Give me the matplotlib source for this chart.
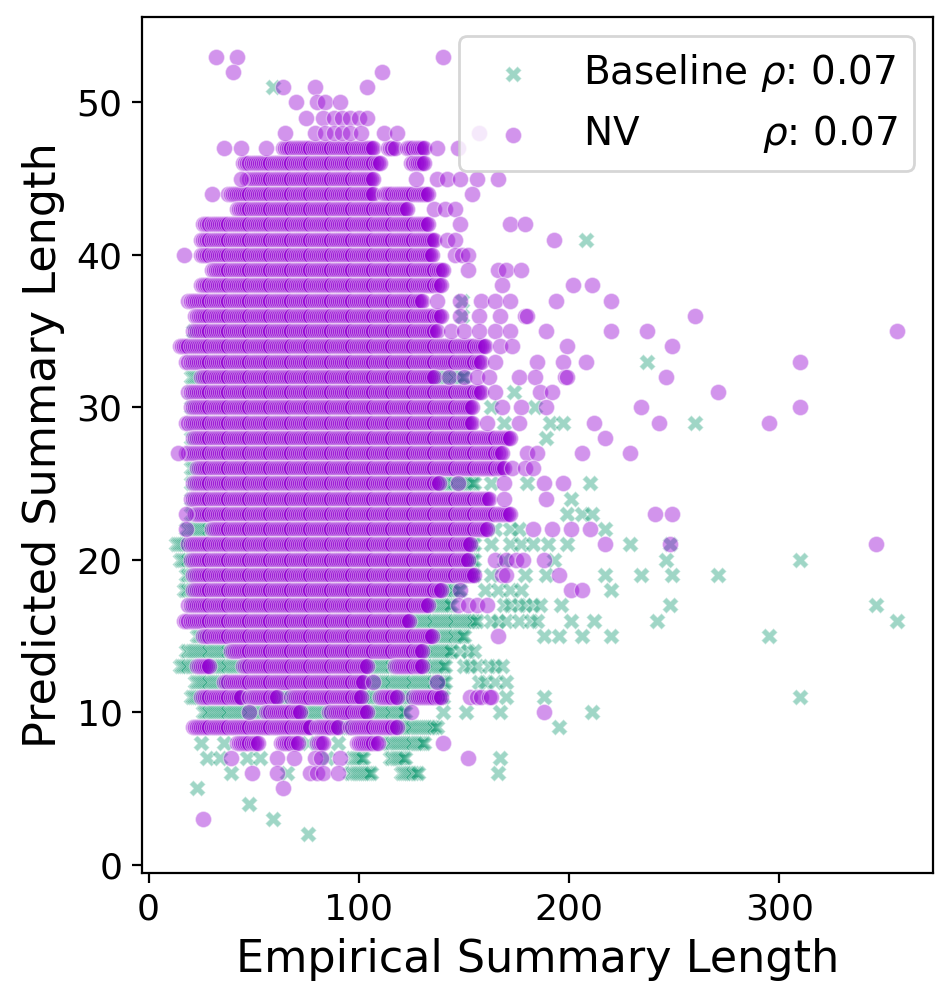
import numpy as np
import matplotlib
matplotlib.use("Agg")
import matplotlib.pyplot as plt

# ---------------- data ----------------
# Dense bands: rows of (predicted length y, empirical length from x0 to x1)
nv_band_y  = [47, 47, 47, 46, 46, 45, 44, 44, 43, 42, 41, 40, 39, 38, 37, 36, 35, 34, 33, 32, 31, 30,
              29, 28, 27, 26, 25, 24, 23, 22, 21, 20, 19, 18, 17, 16, 15, 14, 13, 13, 13, 12,
              11, 11, 11, 11, 11, 10, 10, 9, 9, 9, 8, 8, 8, 8]
nv_band_x0 = [64, 114, 123, 45, 125, 47, 38, 112, 42, 26, 25, 25, 30, 25, 19, 22, 21, 15, 18, 25, 19, 20,
              18, 21, 18, 23, 21, 20, 22, 30, 19, 20, 21, 21, 19, 17, 26, 39, 23, 45, 117, 36,
              25, 48, 68, 110, 126, 56, 86, 21, 80, 96, 42, 63, 80, 99]
nv_band_x1 = [107, 117, 131, 110, 131, 107, 107, 133, 123, 133, 136, 135, 140, 139, 130, 139, 137, 160, 158, 136, 158, 154,
              154, 171, 168, 169, 138, 162, 172, 161, 153, 152, 155, 139, 133, 124, 135, 130, 29, 104, 130, 102,
              44, 61, 101, 118, 139, 72, 104, 77, 90, 118, 52, 71, 83, 109]

# Scattered single points, per predicted length
nv_points = {
    53: [32, 42, 140], 52: [40, 111], 51: [64, 79, 104], 50: [70, 80, 84, 91],
    49: [75, 83, 88, 92, 96, 100, 104],
    48: [65, 79, 84, 88, 92, 96, 101, 112, 118, 157],
    47: [36, 44, 56, 137, 147], 45: [44, 127, 137, 142, 148, 156, 166],
    44: [30, 154], 43: [136, 141, 146], 42: [148, 172, 179], 41: [142, 146, 193],
    40: [17, 146, 149, 152], 39: [152, 166, 170, 177], 38: [168, 202, 211],
    37: [137, 148, 158, 165, 172, 194, 220], 36: [148, 157, 167, 179, 180, 260],
    35: [144, 150, 157, 165, 172, 189, 220, 237, 356], 34: [167, 173, 199, 249],
    33: [165, 185, 197, 208, 310], 32: [143, 150, 156, 162, 176, 184, 198, 199, 246],
    31: [165, 186, 192, 271], 30: [168, 177, 189, 234, 310], 29: [161, 176, 212, 243, 295],
    28: [172, 217], 27: [14, 180, 185, 206, 229], 26: [173, 179, 183],
    25: [147, 169, 188, 197], 24: [169, 189], 23: [18, 241, 249], 22: [18, 183, 192, 201, 210],
    21: [217, 248, 346], 20: [165, 170, 175, 178, 188], 19: [168, 170, 195], 18: [148, 201, 206],
    17: [147, 152, 156, 161], 15: [166], 12: [107, 137], 11: [153, 156, 158, 162, 163],
    10: [48, 125, 188], 8: [140],
    7: [39, 61, 69, 79, 82, 91, 152], 6: [49, 61, 77, 80, 83, 90], 5: [64], 3: [26],
}

base_band_y  = [35, 34, 33, 32, 31, 30, 29, 28, 27, 26, 25, 24, 23, 22, 21, 20, 19, 18, 17, 16, 15,
                14, 13, 12, 11, 10, 9, 8, 7, 7, 6, 6]
base_band_x0 = [22, 20, 20, 20, 20, 20, 20, 20, 20, 20, 20, 20, 20, 18, 13, 15, 18, 17, 20, 20, 23,
                18, 15, 22, 20, 26, 25, 114, 97, 115, 96, 120]
base_band_x1 = [120, 150, 150, 150, 150, 150, 150, 150, 150, 150, 155, 150, 150, 155, 155, 155, 155, 148, 144, 156, 150,
                144, 141, 141, 140, 122, 137, 131, 102, 122, 106, 128]

base_points = {
    51: [59], 41: [208], 37: [149], 36: [149], 35: [21], 33: [237], 31: [174], 30: [163, 184],
    29: [169, 191, 197, 260], 28: [189], 25: [163, 180, 210], 24: [201], 23: [199, 206, 211],
    22: [165, 172, 176, 217], 21: [163, 172, 177, 183, 190, 199, 229, 248],
    20: [169, 193, 246, 310], 19: [163, 179, 189, 217, 234, 249, 271], 18: [160, 166, 172, 177, 220],
    17: [169, 172, 176, 179, 183, 186, 196, 248, 346],
    16: [163, 166, 170, 176, 182, 185, 201, 212, 242, 356],
    15: [188, 195, 206, 220, 295], 14: [148, 152, 155], 13: [150, 153, 156, 162, 165, 168],
    12: [157, 160, 165, 170], 11: [170, 188, 310], 10: [140, 151, 167, 211], 9: [195],
    8: [25, 36, 76, 90], 7: [28, 34, 47, 53, 85, 167], 6: [39, 66, 166], 5: [23], 4: [48],
    3: [59], 2: [76],
}

labels = ["Baseline $\\rho$: 0.07", "NV          $\\rho$: 0.07"]
colors = ["#1b9e77", "#9400d3"]
markers = ["X", "o"]


def collect(band_y, band_x0, band_x1, points):
    xs, ys = [], []
    for y, a, b in zip(band_y, band_x0, band_x1):
        row = np.arange(a, b + 1)
        xs.extend(row.tolist())
        ys.extend([y] * len(row))
    for y, row in points.items():
        xs.extend(row)
        ys.extend([y] * len(row))
    return np.array(xs, float), np.array(ys, float)


base_x, base_y = collect(base_band_y, base_band_x0, base_band_x1, base_points)
nv_x, nv_y = collect(nv_band_y, nv_band_x0, nv_band_x1, nv_points)

# ---------------- figure ----------------
plt.rcParams["font.family"] = ["DejaVu Sans"]
fig = plt.figure(figsize=(4.765, 5.025), dpi=200)
ax = fig.add_axes([142 / 953, 132 / 1005, (933 - 142) / 953, (873 - 17) / 1005])

for (xs, ys), lab, col, mk in zip([(base_x, base_y), (nv_x, nv_y)], labels, colors, markers):
    ax.scatter(xs, ys, s=34, c=col, marker=mk, alpha=0.42,
               edgecolors="white", linewidths=0.45, label=lab)

ax.set_xlim(-3.1, 373.1)
ax.set_ylim(-0.55, 55.6)
ax.set_xticks([0, 100, 200, 300])
ax.set_yticks([0, 10, 20, 30, 40, 50])
ax.tick_params(labelsize=13)
ax.set_xlabel("Empirical Summary Length", fontsize=16)
ax.set_ylabel("Predicted Summary Length", fontsize=16)

leg = ax.legend(loc="upper right", fontsize=14)

fig.savefig("out.png", dpi=200)
